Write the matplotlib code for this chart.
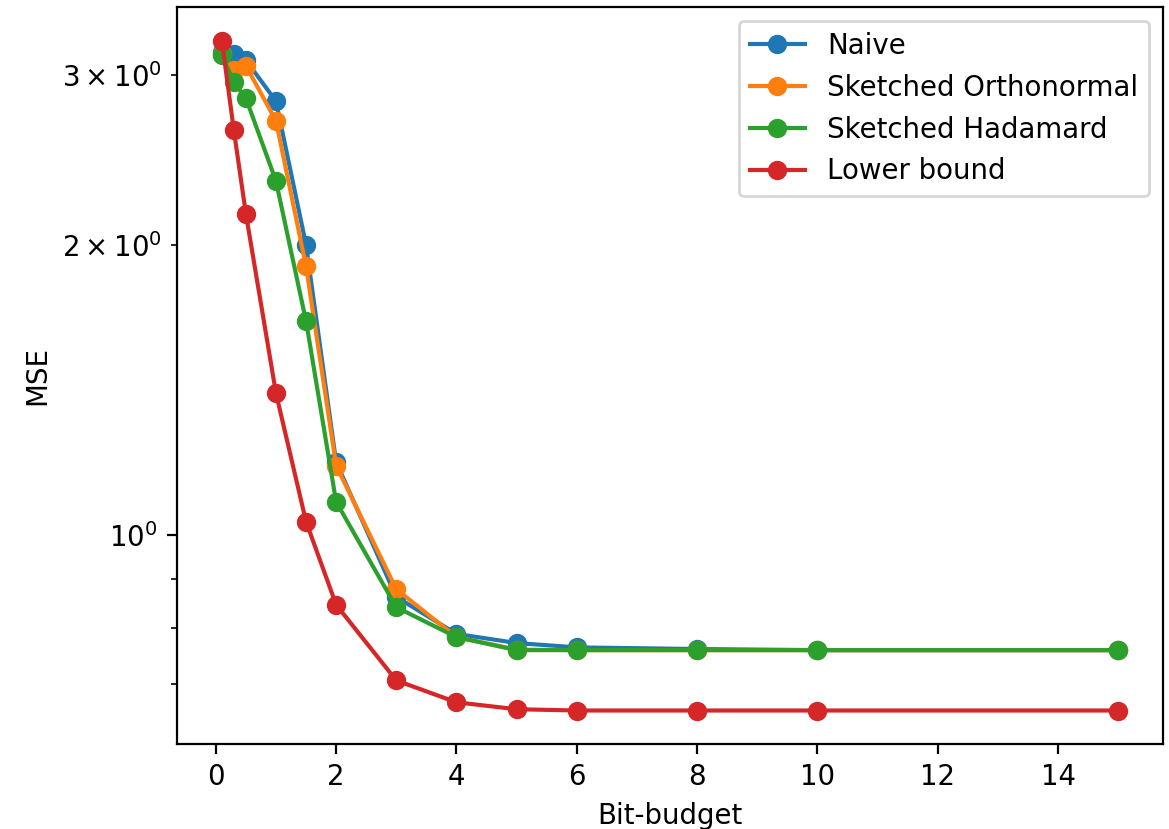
""" MSE vs bit-budget for the sketched quantizers """

import matplotlib
matplotlib.use('Agg')
from matplotlib import pyplot as plt

bits = [0.1, 0.3, 0.5, 1, 1.5, 2, 3, 4, 5, 6, 8, 10, 15]

naive = [3.17, 3.16, 3.11, 2.82, 2.00, 1.19, 0.862, 0.789, 0.772, 0.764, 0.761, 0.759, 0.759]
orthonormal = [3.16, 3.04, 3.07, 2.69, 1.90, 1.18, 0.878, 0.783, 0.760, 0.759, 0.759, 0.759, 0.759]
hadamard = [3.15, 2.95, 2.84, 2.33, 1.667, 1.082, 0.841, 0.783, 0.759, 0.759, 0.759, 0.759, 0.759]
lower_bound = [3.26, 2.63, 2.154, 1.403, 1.032, 0.846, 0.706, 0.670, 0.659, 0.657, 0.657, 0.657, 0.657]

DPI = 199
fig = plt.figure(dpi=DPI, figsize=(1169 / DPI, 829 / DPI))
ax = fig.add_axes([177 / 1169, 1 - 744 / 829, (1163 - 177) / 1169, (744 - 7) / 829])

ax.plot(bits, naive, marker='o', label='Naive')
ax.plot(bits, orthonormal, marker='o', label='Sketched Orthonormal')
ax.plot(bits, hadamard, marker='o', label='Sketched Hadamard')
ax.plot(bits, lower_bound, marker='o', label='Lower bound')

ax.set_yscale('log')
ax.set_xlabel('Bit-budget')
ax.set_ylabel('MSE')
ax.legend(loc='upper right')

fig.savefig('out.png', dpi=DPI)
